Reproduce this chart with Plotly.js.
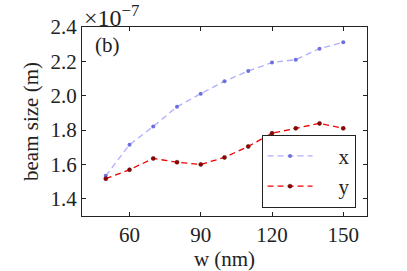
<!DOCTYPE html>
<html><head><meta charset="utf-8">
<script src="https://cdn.plot.ly/plotly-3.0.1.min.js"></script>
<style>html,body{margin:0;padding:0;background:#fff;}#plot{width:407px;height:271px;}</style>
</head><body><div id="plot"></div>
<script>
// widths in nm
const widths = [50, 60, 70, 80, 90, 100, 110, 120, 130, 140, 150];
// beam size in units of 1e-7 m
const beamX = [1.534, 1.715, 1.821, 1.936, 2.012, 2.084, 2.144, 2.193, 2.210, 2.274, 2.311];
const beamY = [1.517, 1.569, 1.635, 1.613, 1.600, 1.641, 1.705, 1.782, 1.810, 1.839, 1.810];
const xTicks = [60, 90, 120, 150];
const yTicks = [1.4, 1.6, 1.8, 2.0, 2.2, 2.4];

const font = "Liberation Serif, DejaVu Serif, serif";
const traces = [
  {x: widths, y: beamX, name: '\u00a0\u00a0\u00a0\u00a0x', mode: 'lines+markers', type: 'scatter',
   line: {color: 'rgba(120,120,255,0.6)', dash: '6px,4px', width: 1.3},
   marker: {color: 'rgb(110,110,220)', size: 4}},
  {x: widths, y: beamY, name: '\u00a0\u00a0\u00a0\u00a0y', mode: 'lines+markers', type: 'scatter',
   line: {color: 'rgb(240,0,0)', dash: '6px,4px', width: 1.3},
   marker: {color: 'rgb(150,0,0)', size: 4, line: {color: '#400', width: 0.5}}}
];
const axisCommon = {showgrid: false, zeroline: false, showline: true, linecolor: '#222', linewidth: 1,
  mirror: 'allticks', ticks: 'inside', ticklen: 4, tickcolor: '#222', tickwidth: 1,
  tickfont: {family: font, size: 21, color: '#222'}};
const layout = {
  width: 407, height: 271, margin: {l: 82, r: 40, t: 27, b: 55},
  paper_bgcolor: '#fff', plot_bgcolor: '#fff',
  font: {family: font, color: '#222'},
  xaxis: Object.assign({}, axisCommon, {range: [40, 160], tickvals: xTicks, ticktext: xTicks.map(String),
    title: {text: 'w (nm)', font: {family: font, size: 21, color: '#222'}, standoff: 2}}),
  yaxis: Object.assign({}, axisCommon, {range: [1.3, 2.4], tickvals: yTicks, ticktext: yTicks.map(v => v.toFixed(1)),
    title: {text: 'beam size (m)', font: {family: font, size: 21, color: '#222'}, standoff: 6}}),
  showlegend: true,
  legend: {x: 0.63, y: 0.43, xanchor: 'left', yanchor: 'top', bordercolor: '#222', borderwidth: 1,
    bgcolor: '#fff', font: {family: font, size: 21, color: '#222'}, itemwidth: 45},
  annotations: [
    {xref: 'paper', yref: 'paper', x: 0.04, y: 0.905, xanchor: 'left', yanchor: 'middle', showarrow: false,
     text: '(b)', font: {family: font, size: 21, color: '#222'}},
    {xref: 'paper', yref: 'paper', x: 0.0, y: 1.0, xanchor: 'left', yanchor: 'bottom', showarrow: false,
     text: '×10<sup>−7</sup>', font: {family: font, size: 24, color: '#222'}, yshift: -6}
  ]
};
Plotly.newPlot('plot', traces, layout, {displayModeBar: false, staticPlot: true});
</script></body></html>
